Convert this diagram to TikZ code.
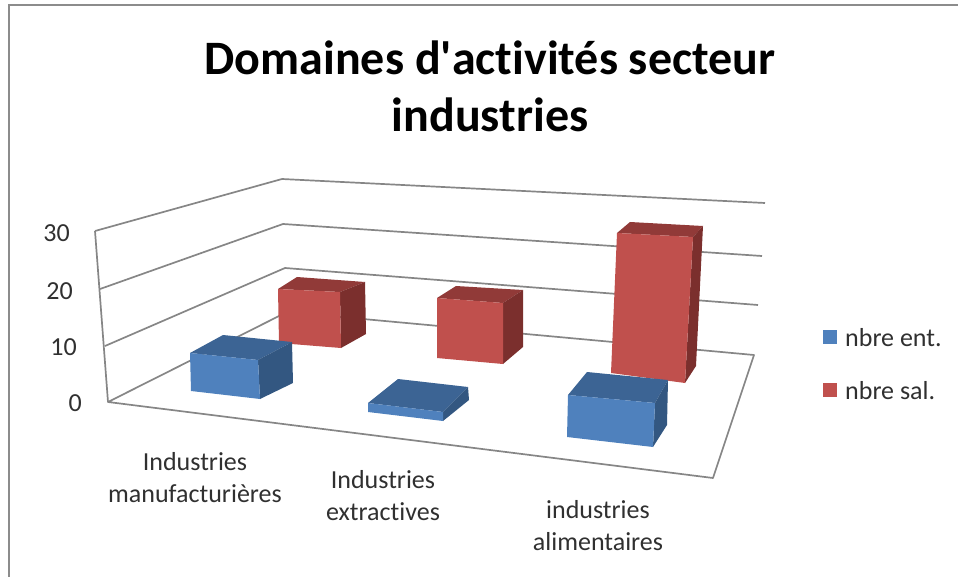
\documentclass[tikz,border=0pt]{standalone}
\usepackage{fontspec}
\setmainfont{Carlito}[Ligatures={TeX,NoCommon}]
\usepackage{tikz}

\definecolor{gridgray}{HTML}{868686}
\definecolor{framegray}{HTML}{8C8C8C}
\definecolor{labelgray}{HTML}{303030}
\definecolor{bluefront}{HTML}{4F81BD}
\definecolor{bluetop}{HTML}{3C6494}
\definecolor{blueside}{HTML}{335781}
\definecolor{redfront}{HTML}{C0504D}
\definecolor{redtop}{HTML}{913A38}
\definecolor{redside}{HTML}{7B2F2D}

% one 3d bar: colour prefix, front TL, TR, BR, BL, back TL, back TR, back BR
\newcommand{\drawbar}[8]{%
  \fill[#1top]   #6 -- #7 -- #3 -- #2 -- cycle;
  \fill[#1side]  #3 -- #7 -- #8 -- #4 -- cycle;
  \fill[#1front] #2 -- #3 -- #4 -- #5 -- cycle;
}

\begin{document}
\begin{tikzpicture}[x=1pt, y=-1pt,
  grid line/.style={draw=gridgray, line width=1.7pt, line join=round},
  axis label/.style={anchor=east, inner sep=0pt, text=labelgray, font=\fontsize{26}{30}\selectfont},
  cat label/.style={align=center, inner sep=0pt, text=labelgray, font=\fontsize{26}{32}\selectfont},
  legend box/.style={minimum size=14pt, inner sep=0pt},
  legend text/.style={anchor=west, inner sep=0pt, text=labelgray, font=\fontsize{26}{30}\selectfont}]
\useasboundingbox (0,0) rectangle (958,577);

% frame
\draw[framegray, line width=2pt] (9,577) -- (9,5) -- (958,5);

% title
\node[align=center, font=\fontsize{48}{57}\selectfont\bfseries] (title) at (490,86)
  {Domaines d\textquotesingle activités secteur\\industries};

% walls and floor
\coordinate (w0) at (108,402); \coordinate (b0) at (287,312); \coordinate (r0) at (754,355);
\coordinate (w1) at (105,346); \coordinate (b1) at (285,268); \coordinate (r1) at (758,305);
\coordinate (w2) at (100,289); \coordinate (b2) at (283,224); \coordinate (r2) at (762,256);
\coordinate (w3) at (95,231);  \coordinate (b3) at (282,179); \coordinate (r3) at (765,203);
\coordinate (f0) at (713,478);
\draw[grid line] (w3) -- (w0);
\draw[grid line] (w0) -- (b0) -- (r0) -- (f0) -- cycle;
\draw[grid line] (w1) -- (b1) -- (r1);
\draw[grid line] (w2) -- (b2) -- (r2);
\draw[grid line] (w3) -- (b3) -- (r3);

% value axis
\node[axis label] (v30) at (70,233) {30};
\node[axis label] (v20) at (73,291) {20};
\node[axis label] (v10) at (77,347) {10};
\node[axis label] (v0)  at (82,403) {0};

% nbre sal. (back row)
\drawbar{red}{(278,289)}{(340,292)}{(341,348)}{(279,343)}{(297,277)}{(365,282)}{(366,334)}
\drawbar{red}{(437,298)}{(503,303)}{(503,364)}{(437,358)}{(456,286)}{(523,290)}{(523,347)}
\drawbar{red}{(617,233)}{(693,237)}{(685,383)}{(611,373)}{(630,222)}{(703,226)}{(696,366)}

% nbre ent. (front row)
\drawbar{blue}{(190,353)}{(258,360)}{(260,399)}{(191,391)}{(223,335)}{(292,342)}{(293,383)}
\drawbar{blue}{(368,403)}{(443,412)}{(443,421)}{(368,412)}{(398,379)}{(468,387)}{(469,400)}
\drawbar{blue}{(568,395)}{(655,403)}{(653,447)}{(567,437)}{(587,372)}{(668,380)}{(667,425)}

% categories
\node[cat label] (manuf)   at (195,478) {Industries\\manufacturières};
\node[cat label] (extract) at (383,496) {Industries\\extractives};
\node[cat label] (alim)    at (598,526) {industries\\alimentaires};

% legend
\node[legend box, fill=bluefront] (entbox) at (830,337) {};
\node[legend box, fill=redfront]  (salbox) at (830,390) {};
\node[legend text] (ent) at (845,338) {nbre ent.};
\node[legend text] (sal) at (845,391) {nbre sal.};
\end{tikzpicture}
\end{document}
